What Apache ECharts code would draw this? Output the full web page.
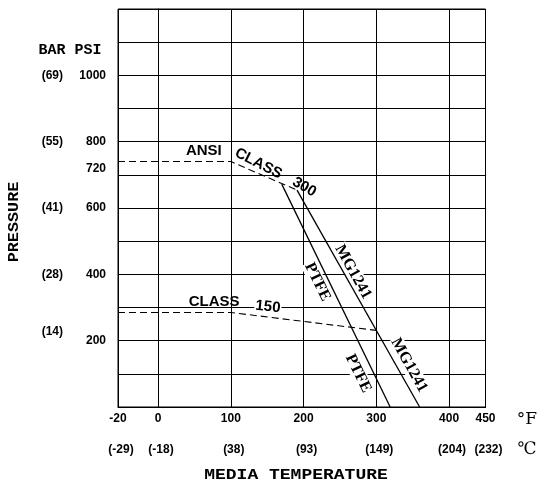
<!DOCTYPE html>
<html><head><meta charset="utf-8">
<script src="https://cdn.jsdelivr.net/npm/echarts@6/dist/echarts.min.js"></script>
<style>html,body{margin:0;padding:0;background:#fff}#c{width:541px;height:483px}</style>
</head><body><div id="c"></div>
<script>
// ---- data (°F, psi) ----
const tempTicksF = [-20, 0, 100, 200, 300, 400, 450];
const tempTicksC = ['(-29)', '(-18)', '(38)', '(93)', '(149)', '(204)', '(232)'];
const psiTicks = [200, 400, 600, 720, 800, 1000];
const barTicks = [200, 400, 600, 800, 1000];
const barLabels = ['(14)', '(28)', '(41)', '(55)', '(69)'];
const class300 = [[-20, 740], [100, 740], [191, 654]];
const class150 = [[-20, 285], [100, 285], [300, 231]];
const ptfe = [[170, 672], [319, 0]];
const mg1241 = [[191, 654], [359.5, 0]];
const annoText = ['ANSI', 'CLASS', '300', 'CLASS', '150', 'PTFE', 'PTFE', 'MG1241', 'MG1241'];
const annoF    = [63, 138, 201, 77, 151, 219, 275, 268, 345];
const annoPsi  = [771, 734, 663, 318, 302, 377, 101, 407, 126];
const annoRot  = [0, -27, -30, 0, -6, -64, -64, -61, -61];

// the chart stretches the -20..0 °F band: 20 °F there spans 55 units
const STRETCH = 55 / 20;
const fx = t => (t < 0 ? t * STRETCH : t);
const fxInv = v => (v < 0 ? v / STRETCH : v);
const map = arr => arr.map(p => [fx(p[0]), p[1]]);
const xTickPos = tempTicksF.map(fx);

const tickFont = { fontFamily: 'Liberation Sans', fontWeight: 'bold', fontSize: 12, color: '#000' };

const chart = echarts.init(document.getElementById('c'));
const lineBase = { type: 'line', symbol: 'none', silent: true, animation: false, z: 3 };
const serifLabel = { fontFamily: 'Liberation Serif', fontWeight: 'bold', fontSize: 16, backgroundColor: '#fff', padding: [0, 1] };
const sansLabel = { fontFamily: 'Liberation Sans', fontWeight: 'bold', fontSize: 15 };
const annoStyle = [sansLabel, sansLabel, sansLabel, sansLabel,
  Object.assign({}, sansLabel, { backgroundColor: '#fff', padding: [0, 1] }),
  serifLabel, serifLabel, serifLabel, serifLabel];

chart.setOption({
  animation: false,
  grid: { left: 118, right: 55.5, top: 9, bottom: 76, show: true, borderColor: '#000', borderWidth: 1 },
  xAxis: [{
    type: 'value', min: fx(-20), max: 450, position: 'bottom',
    axisLine: { show: true, lineStyle: { color: '#000', width: 1 } },
    axisTick: { show: false, customValues: xTickPos },
    splitLine: { show: true, lineStyle: { color: '#000', width: 1 } },
    axisLabel: Object.assign({ customValues: xTickPos, margin: 6,
      formatter: v => String(Math.round(fxInv(v))) }, tickFont)
  }, {
    type: 'value', min: fx(-20), max: 450, position: 'bottom', offset: 31,
    axisLine: { show: false }, axisTick: { show: false }, splitLine: { show: false },
    axisLabel: Object.assign({ customValues: xTickPos, margin: 6, padding: [0, 0, 0, 6],
      formatter: v => tempTicksC[xTickPos.indexOf(v)] || '' }, tickFont)
  }],
  yAxis: [{
    type: 'value', min: 0, max: 1200, interval: 100,
    axisLine: { show: true, lineStyle: { color: '#000', width: 1 } },
    axisTick: { show: false },
    splitLine: { show: true, lineStyle: { color: '#000', width: 1 } },
    axisLabel: Object.assign({ customValues: psiTicks, margin: 12, formatter: v => String(v) }, tickFont)
  }, {
    type: 'value', min: 0, max: 1200, position: 'left',
    axisLine: { show: false }, axisTick: { show: false }, splitLine: { show: false },
    axisLabel: Object.assign({ customValues: barTicks, margin: 55,
      formatter: v => { const s = barLabels[barTicks.indexOf(v)] || ''; return v === 200 ? '{up|' + s + '}' : s; },
      rich: { up: Object.assign({ padding: [0, 0, 17, 0] }, tickFont) } }, tickFont)
  }],
  series: [
    Object.assign({ data: map(class300), lineStyle: { color: '#000', width: 1.1, type: [7, 4] } }, lineBase),
    Object.assign({ data: map(class150), lineStyle: { color: '#000', width: 1.1, type: [7, 4] } }, lineBase),
    Object.assign({ data: map(ptfe), lineStyle: { color: '#000', width: 1.3 } }, lineBase),
    Object.assign({ data: map(mg1241), lineStyle: { color: '#000', width: 1.3 } }, lineBase),
    {
      type: 'scatter', symbolSize: 0, silent: true, animation: false, z: 1,
      itemStyle: { color: '#000', opacity: 1 },
      data: annoText.map((t, i) => ({
        value: [fx(annoF[i]), annoPsi[i]],
        label: Object.assign({ show: true, position: 'inside', formatter: t, rotate: annoRot[i],
          color: '#000', opacity: 1, textBorderWidth: 0, textBorderColor: 'transparent',
          align: 'center', verticalAlign: 'middle' }, annoStyle[i])
      }))
    }
  ],
  graphic: [
    { type: 'text', x: 70, y: 50, style: { text: 'BAR PSI', font: 'bold 15px "Liberation Mono"', fill: '#000', textAlign: 'center', textVerticalAlign: 'middle', align: 'center', verticalAlign: 'middle' } },
    { type: 'text', x: 14, y: 222, rotation: Math.PI / 2, scaleX: 1.2, style: { text: 'PRESSURE', font: 'bold 14px "Liberation Mono"', fill: '#000', textAlign: 'center', textVerticalAlign: 'middle', align: 'center', verticalAlign: 'middle' } },
    { type: 'text', x: 296, y: 475, scaleX: 1.2, style: { text: 'MEDIA TEMPERATURE', font: 'bold 15px "Liberation Mono"', fill: '#000', textAlign: 'center', textVerticalAlign: 'middle', align: 'center', verticalAlign: 'middle' } },
    { type: 'text', x: 527, y: 420, style: { text: '°F', font: '17px "DejaVu Serif"', fill: '#000', textAlign: 'center', textVerticalAlign: 'middle', align: 'center', verticalAlign: 'middle' } },
    { type: 'text', x: 527, y: 450, style: { text: '℃', font: '17px "DejaVu Serif"', fill: '#000', textAlign: 'center', textVerticalAlign: 'middle', align: 'center', verticalAlign: 'middle' } }
  ]
});
</script>
</body></html>
